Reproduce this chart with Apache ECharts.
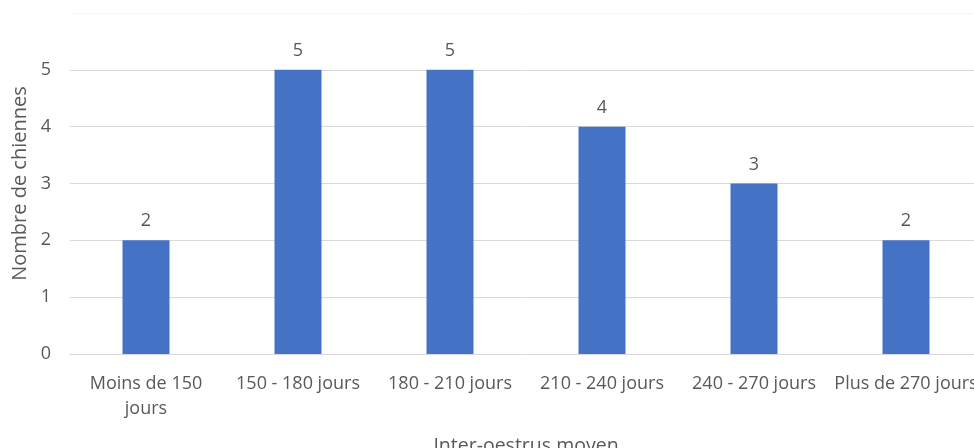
<!DOCTYPE html>
<html>
<head>
<meta charset="utf-8">
<script src="https://cdn.jsdelivr.net/npm/echarts@6/dist/echarts.min.js"></script>
<style>
html,body{margin:0;padding:0;background:#fff;}
#chart{width:974px;height:448px;}
</style>
</head>
<body>
<div id="chart"></div>
<script>
const categories = ['Moins de 150 jours', '150 - 180 jours', '180 - 210 jours', '210 - 240 jours', '240 - 270 jours', 'Plus de 270 jours'];
const values = [2, 5, 5, 4, 3, 2];
const yTicks = [0, 1, 2, 3, 4, 5, 6];
const xTitle = 'Inter-oestrus moyen';
const yTitle = 'Nombre de chiennes';

const font = 'Open Sans';
const textColor = '#595959';
const chart = echarts.init(document.getElementById('chart'));
chart.setOption({
  animation: false,
  grid: { left: 70, top: 13, width: 912, height: 341, containLabel: false, outerBoundsMode: 'none' },
  xAxis: {
    type: 'category',
    data: categories,
    axisLine: { show: true, lineStyle: { color: '#d9d9d9', width: 1 } },
    axisTick: { show: false },
    axisLabel: {
      color: textColor, fontFamily: font, fontSize: 18, lineHeight: 25, margin: 17,
      interval: 0,
      formatter: v => v === categories[0] ? 'Moins de 150\njours' : v
    },
    name: xTitle,
    nameLocation: 'middle',
    nameGap: 82,
    nameTextStyle: { color: textColor, fontFamily: font, fontSize: 19.5 }
  },
  yAxis: {
    type: 'value',
    min: yTicks[0],
    max: yTicks[yTicks.length - 1],
    interval: 1,
    axisLine: { show: false },
    axisTick: { show: false },
    axisLabel: {
      color: textColor, fontFamily: font, fontSize: 18, margin: 19,
      formatter: v => v === yTicks[yTicks.length - 1] ? '' : String(v)
    },
    splitLine: { lineStyle: { color: ['#d9d9d9', '#d9d9d9', '#d9d9d9', '#d9d9d9', '#d9d9d9', '#d9d9d9', '#f6f6f6'], width: 1 } },
    name: yTitle,
    nameLocation: 'middle',
    nameGap: 40,
    nameTextStyle: { color: textColor, fontFamily: font, fontSize: 20 }
  },
  series: [{
    type: 'bar',
    data: values,
    barWidth: 47,
    itemStyle: { color: '#4472C4' },
    label: { show: true, position: 'top', distance: 10, color: textColor, fontFamily: font, fontSize: 18 }
  }]
});
</script>
</body>
</html>
